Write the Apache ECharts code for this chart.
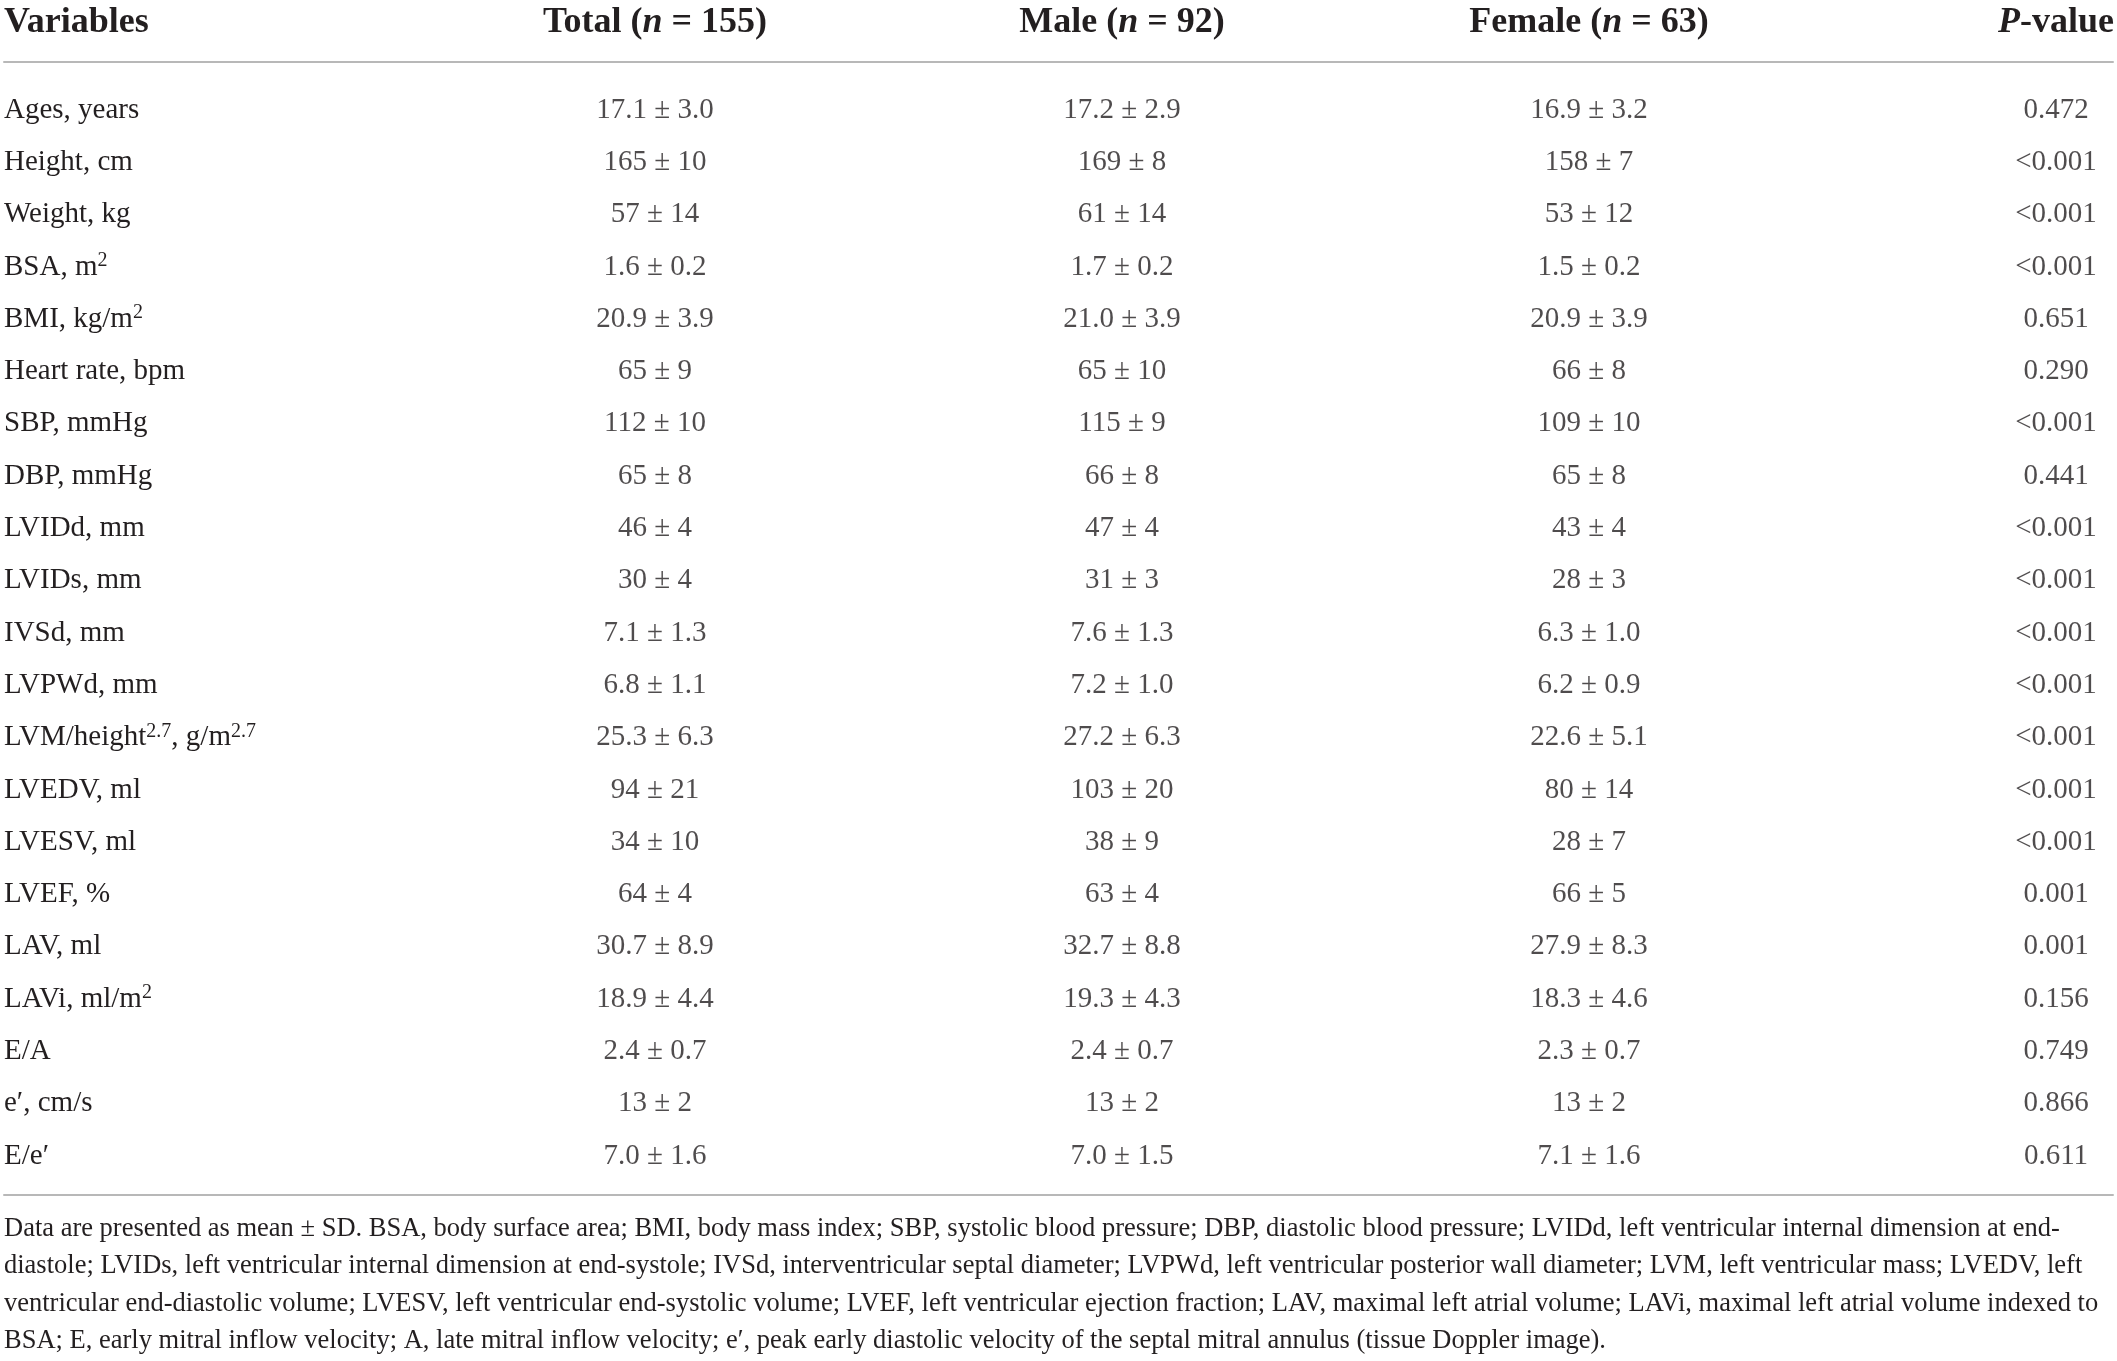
<!DOCTYPE html>
<html><head><meta charset="utf-8">
<script src="https://cdn.jsdelivr.net/npm/echarts@6/dist/echarts.min.js"></script>
<style>html,body{margin:0;padding:0;background:#fff}#c{width:2117px;height:1361px}</style>
</head><body><div id="c"></div>
<script>
// ---- data ----
const variables = ['Ages, years','Height, cm','Weight, kg','BSA, m{sup|2}','BMI, kg/m{sup|2}','Heart rate, bpm','SBP, mmHg','DBP, mmHg','LVIDd, mm','LVIDs, mm','IVSd, mm','LVPWd, mm','LVM/height{sup|2.7}, g/m{sup|2.7}','LVEDV, ml','LVESV, ml','LVEF, %','LAV, ml','LAVi, ml/m{sup|2}','E/A','e\u2032, cm/s','E/e\u2032'];
const columnHeaders = ['Total ({bi|n} = 155)','Male ({bi|n} = 92)','Female ({bi|n} = 63)','{bi|P}-value'];
const firstHeader = 'Variables';
const totalValues = ['17.1 ± 3.0','165 ± 10','57 ± 14','1.6 ± 0.2','20.9 ± 3.9','65 ± 9','112 ± 10','65 ± 8','46 ± 4','30 ± 4','7.1 ± 1.3','6.8 ± 1.1','25.3 ± 6.3','94 ± 21','34 ± 10','64 ± 4','30.7 ± 8.9','18.9 ± 4.4','2.4 ± 0.7','13 ± 2','7.0 ± 1.6'];
const maleValues = ['17.2 ± 2.9','169 ± 8','61 ± 14','1.7 ± 0.2','21.0 ± 3.9','65 ± 10','115 ± 9','66 ± 8','47 ± 4','31 ± 3','7.6 ± 1.3','7.2 ± 1.0','27.2 ± 6.3','103 ± 20','38 ± 9','63 ± 4','32.7 ± 8.8','19.3 ± 4.3','2.4 ± 0.7','13 ± 2','7.0 ± 1.5'];
const femaleValues = ['16.9 ± 3.2','158 ± 7','53 ± 12','1.5 ± 0.2','20.9 ± 3.9','66 ± 8','109 ± 10','65 ± 8','43 ± 4','28 ± 3','6.3 ± 1.0','6.2 ± 0.9','22.6 ± 5.1','80 ± 14','28 ± 7','66 ± 5','27.9 ± 8.3','18.3 ± 4.6','2.3 ± 0.7','13 ± 2','7.1 ± 1.6'];
const pValues = ['0.472','<0.001','<0.001','<0.001','0.651','0.290','<0.001','0.441','<0.001','<0.001','<0.001','<0.001','<0.001','<0.001','<0.001','0.001','0.001','0.156','0.749','0.866','0.611'];
const footnoteLines = [
  'Data are presented as mean ± SD. BSA, body surface area; BMI, body mass index; SBP, systolic blood pressure; DBP, diastolic blood pressure; LVIDd, left ventricular internal dimension at end-',
  'diastole; LVIDs, left ventricular internal dimension at end-systole; IVSd, interventricular septal diameter; LVPWd, left ventricular posterior wall diameter; LVM, left ventricular mass; LVEDV, left',
  'ventricular end-diastolic volume; LVESV, left ventricular end-systolic volume; LVEF, left ventricular ejection fraction; LAV, maximal left atrial volume; LAVi, maximal left atrial volume indexed to',
  'BSA; E, early mitral inflow velocity; A, late mitral inflow velocity; e\u2032, peak early diastolic velocity of the septal mitral annulus (tissue Doppler image).'
];
const columns = [totalValues, maleValues, femaleValues, pValues];

// ---- styles ----
const FONT = '"Liberation Serif", "DejaVu Serif", serif';
const INK = '#231f20';
const RULE = '#b8b8b8';
const BODY = 29;
const HEAD = 36;

const gridLeft = 655, gridRight = 53, gridTop = 110, gridBottom = 205;

const chart = echarts.init(document.getElementById('c'), null, {renderer: 'canvas'});
const series = columns.map((vals, c) => ({
  type: 'scatter',
  xAxisIndex: 0, yAxisIndex: 0,
  symbolSize: 0,
  itemStyle: {color: 'rgba(0,0,0,0)'},
  silent: true,
  data: vals.map((v, r) => ({name: v, value: [c, r]})),
  label: {
    show: true, position: 'inside', formatter: '{b}',
    fontFamily: FONT, fontSize: BODY, color: INK
  }
}));

chart.setOption({
  backgroundColor: '#fff',
  animation: false,
  title: [
    {text: firstHeader, left: 4, top: 3, padding: 0,
     textStyle: {fontFamily: FONT, fontSize: HEAD, fontWeight: 'bold', color: INK, lineHeight: 40}},
    {text: footnoteLines.join('\n'), left: 4, top: 1210, padding: 0,
     textStyle: {fontFamily: FONT, fontSize: 26.5, fontWeight: 'normal', color: INK, lineHeight: 37.5}}
  ],
  grid: [
    {left: gridLeft, right: gridRight, top: gridTop, bottom: gridBottom},
    {left: 4, right: 4, top: 62, bottom: 166}
  ],
  xAxis: [
    {type: 'category', gridIndex: 0, position: 'top', data: columnHeaders, boundaryGap: false,
     axisLine: {show: false}, axisTick: {show: false}, splitLine: {show: false},
     axisLabel: {interval: 0, margin: 87, verticalAlign: 'middle', fontFamily: FONT, fontSize: HEAD,
       fontWeight: 'bold', color: INK,
       rich: {bi: {fontFamily: FONT, fontSize: HEAD, fontWeight: 'bold', fontStyle: 'italic', color: INK}}}},
    {type: 'value', gridIndex: 1, position: 'top', min: 0, max: 1,
     axisLine: {show: true, onZero: false, lineStyle: {color: RULE, width: 2}}, axisTick: {show: false},
     axisLabel: {show: false}, splitLine: {show: false}},
    {type: 'value', gridIndex: 1, position: 'bottom', min: 0, max: 1,
     axisLine: {show: true, onZero: false, lineStyle: {color: RULE, width: 2}}, axisTick: {show: false},
     axisLabel: {show: false}, splitLine: {show: false}}
  ],
  yAxis: [
    {type: 'category', gridIndex: 0, inverse: true, data: variables, boundaryGap: false,
     axisLine: {show: false}, axisTick: {show: false}, splitLine: {show: false},
     axisLabel: {interval: 0, align: 'left', margin: gridLeft - 4, fontFamily: FONT, fontSize: BODY, color: INK,
       lineHeight: 32,
       rich: {sup: {fontFamily: FONT, fontSize: 20, color: INK, lineHeight: 20, verticalAlign: 'top'}}}},
    {type: 'value', gridIndex: 1, show: false, min: 0, max: 1}
  ],
  series: series
});
</script>
</body></html>
